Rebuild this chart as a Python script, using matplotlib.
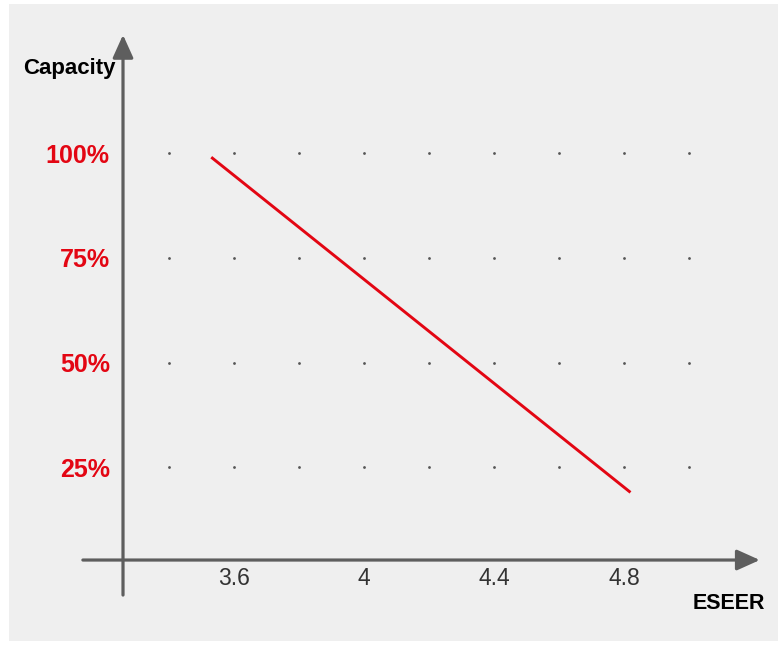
import numpy as np
import matplotlib.pyplot as plt
from matplotlib.patches import Rectangle

# data
eseer_ticks = [3.6, 4.0, 4.4, 4.8]
eseer_tick_labels = ['3.6', '4', '4.4', '4.8']
capacity_ticks = [25, 50, 75, 100]
capacity_tick_labels = ['25%', '50%', '75%', '100%']
dot_cols = [3.4, 3.6, 3.8, 4.0, 4.2, 4.4, 4.6, 4.8, 5.0]
line_eseer = [3.53, 4.82]
line_capacity = [99, 19]

RED = '#e30613'
AXIS = '#5e5e5e'
BG = '#efefef'

plt.rcParams['font.family'] = ['Liberation Sans', 'DejaVu Sans']

fig = plt.figure(figsize=(7.79, 6.45), dpi=100, facecolor='white')
fig.patches.append(Rectangle((9 / 779, 1 - 641 / 645), 769 / 779, 637 / 645,
                             transform=fig.transFigure, facecolor=BG,
                             edgecolor='none', zorder=-10))

ax = fig.add_axes([0, 0, 1, 1])
ax.set_axis_off()
ax.set_xlim(2.88, 5.277)
ax.set_ylim(-17.42, 136.52)

x0, y0 = 3.2585, 2.86  # where the two axes cross

# axes with arrows
ax.annotate('', xy=(x0, 128.2), xytext=(x0, -5.5),
            arrowprops=dict(arrowstyle='-|>,head_length=1.0,head_width=0.45',
                            mutation_scale=14, color=AXIS, lw=2.3,
                            shrinkA=0, shrinkB=0))
ax.annotate('', xy=(5.218, y0), xytext=(3.135, y0),
            arrowprops=dict(arrowstyle='-|>,head_length=1.0,head_width=0.45',
                            mutation_scale=14, color=AXIS, lw=2.3,
                            shrinkA=0, shrinkB=0))

# dotted grid
gx, gy = np.meshgrid(dot_cols, capacity_ticks)
ax.scatter(gx.ravel(), gy.ravel(), s=4, color='#555555', linewidths=0)

# the line
ax.plot(line_eseer, line_capacity, color=RED, lw=2.1, solid_capstyle='butt')

# tick labels
for x, lab in zip(eseer_ticks, eseer_tick_labels):
    ax.annotate(lab, xy=(x, y0), xytext=(0, -5), textcoords='offset points',
                ha='center', va='top', fontsize=16.5, color='#333333')
for y, lab in zip(capacity_ticks, capacity_tick_labels):
    ax.annotate(lab, xy=(x0, y), xytext=(-9.5, 0), textcoords='offset points',
                ha='right', va='center_baseline', fontsize=18,
                fontweight='bold', color=RED)

ax.text(3.2355, 120.2, 'Capacity', ha='right', va='center', fontsize=16,
        fontweight='bold', color='black')
ax.text(5.2345, -7.6, 'ESEER', ha='right', va='center', fontsize=15.5,
        fontweight='bold', color='black')

fig.savefig('out.png', dpi=100, facecolor='white')
